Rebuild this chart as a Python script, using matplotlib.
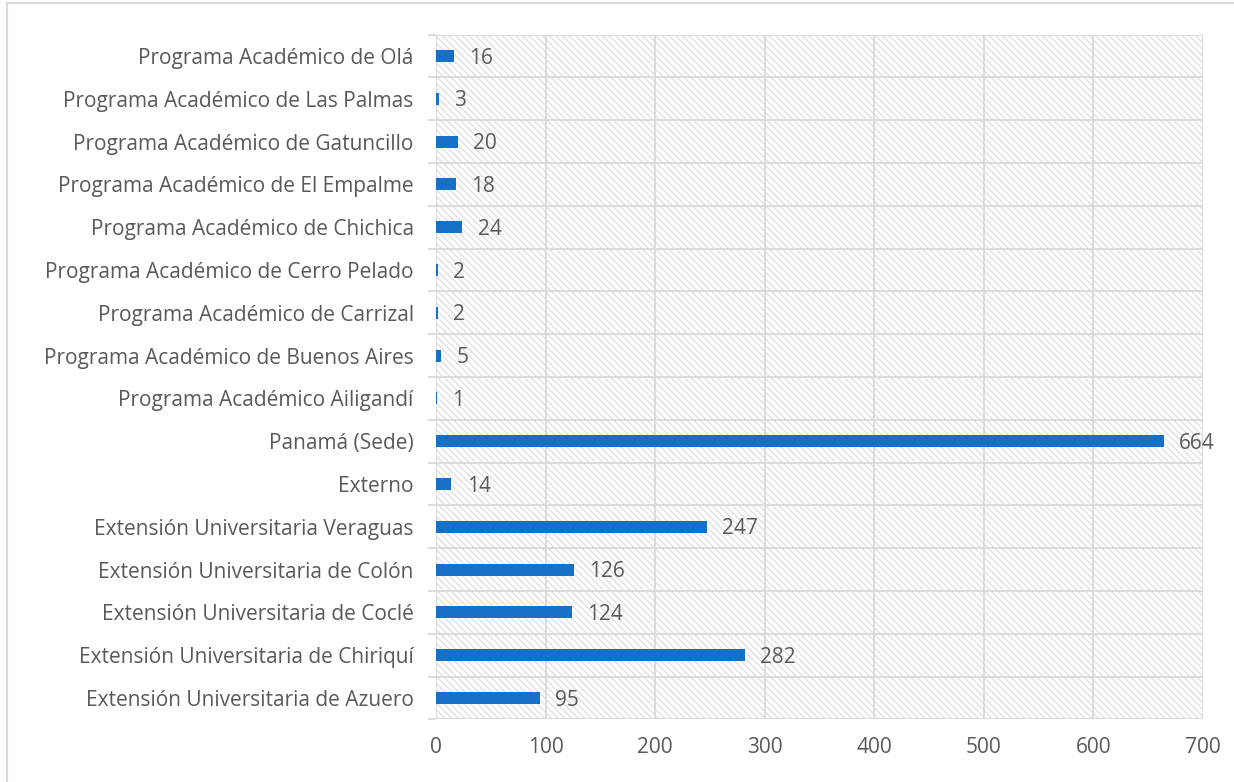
import numpy as np
import matplotlib.pyplot as plt
from matplotlib.patches import Rectangle

# Datos (de abajo hacia arriba)
categorias = [
    "Extensión Universitaria de Azuero",
    "Extensión Universitaria de Chiriquí",
    "Extensión Universitaria de Coclé",
    "Extensión Universitaria de Colón",
    "Extensión Universitaria Veraguas",
    "Externo",
    "Panamá (Sede)",
    "Programa Académico Ailigandí",
    "Programa Académico de Buenos Aires",
    "Programa Académico de Carrizal",
    "Programa Académico de Cerro Pelado",
    "Programa Académico de Chichica",
    "Programa Académico de El Empalme",
    "Programa Académico de Gatuncillo",
    "Programa Académico de Las Palmas",
    "Programa Académico de Olá",
]
valores = [95, 282, 124, 126, 247, 14, 664, 1, 5, 2, 2, 24, 18, 20, 3, 16]
ticks_x = [0, 100, 200, 300, 400, 500, 600, 700]

color_barra = '#1570C6'
color_grid = '#D9D9D9'
color_texto = '#595959'
tam = 15

plt.rcParams['font.family'] = ['Open Sans', 'DejaVu Sans']
plt.rcParams['hatch.color'] = '#E0E0E0'
plt.rcParams['hatch.linewidth'] = 1.0

fig = plt.figure(figsize=(12.34, 7.82), dpi=100)
ax = fig.add_axes([0.3533, 0.08, 0.6216, 0.8758])

# marco exterior del gráfico
fig.patches.append(Rectangle((7 / 1234, -0.1), 1.2, 1.1 - 3 / 782,
                             transform=fig.transFigure, fill=False,
                             edgecolor=color_grid, lw=1.5))

# fondo rayado del área de trazado
ax.add_patch(Rectangle((0, 0), 1, 1, transform=ax.transAxes, facecolor='white',
                       edgecolor='#E0E0E0', lw=0, hatch='\\' * 5, zorder=0))

y = np.arange(len(categorias))
ax.barh(y, valores, height=0.28, color=color_barra, zorder=3)

for yi, v in zip(y, valores):
    ax.annotate(str(v), (v, yi), xytext=(11, -1.5), textcoords='offset points',
                va='center', ha='left', fontsize=tam, color=color_texto)

ax.set_xlim(0, 700)
ax.set_ylim(-0.5, len(categorias) - 0.5)
ax.set_xticks(ticks_x)
ax.set_yticks(y)
ax.set_yticklabels(categorias, va='center_baseline')
ax.set_yticks(np.arange(len(categorias) + 1) - 0.5, minor=True)

ax.tick_params(axis='y', which='major', length=0, pad=16, labelsize=tam,
               labelcolor=color_texto)
ax.tick_params(axis='y', which='minor', length=6, width=1.3, color=color_grid)
ax.tick_params(axis='x', length=0, pad=13, labelsize=tam, labelcolor=color_texto)

ax.grid(axis='x', which='major', color=color_grid, lw=1.3, zorder=1)
ax.grid(axis='y', which='minor', color=color_grid, lw=1.3, zorder=1)
ax.grid(axis='y', which='major', visible=False)
for s in ax.spines.values():
    s.set_visible(False)
ax.set_axisbelow(True)

plt.savefig('out.png', dpi=100)
